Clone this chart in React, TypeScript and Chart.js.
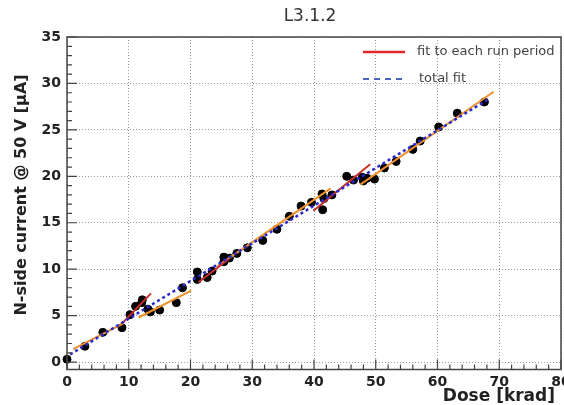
import React, { useEffect, useRef } from "react";
import { Chart, registerables } from "chart.js";

Chart.register(...registerables);

// ---- data ----
const chartTitle = "L3.1.2";
const xAxisTitle = "Dose [krad]";
const yAxisTitle = "N-side current @ 50 V [\u03bcA]";
const legendLabels = ["fit to each run period", "total fit"];

const xTickValues = [0, 10, 20, 30, 40, 50, 60, 70, 80];
const yTickValues = [0, 5, 10, 15, 20, 25, 30, 35];

const doseKrad = [
  0.0, 2.9, 5.8, 8.9, 10.2, 11.1, 12.2, 12.1, 13.1, 13.5, 15.0, 17.7, 18.7,
  21.1, 21.1, 22.7, 23.5, 25.4, 25.4, 26.3, 27.5, 29.2, 31.7, 34.0, 36.0,
  37.9, 39.6, 41.3, 41.6, 41.4, 42.9, 45.3, 46.4, 47.8, 48.0, 48.6, 49.8,
  51.4, 53.3, 56.0, 57.2, 60.2, 63.2, 67.6,
];
const currentUA = [
  0.3, 1.7, 3.2, 3.7, 5.1, 6.0, 6.7, 6.4, 5.7, 5.4, 5.6, 6.4, 8.0,
  9.7, 8.9, 9.1, 9.8, 10.8, 11.3, 11.2, 11.7, 12.3, 13.1, 14.3, 15.7,
  16.8, 17.2, 18.1, 17.6, 16.4, 18.0, 20.0, 19.6, 19.9, 19.5, 19.8, 19.7,
  20.9, 21.6, 22.9, 23.8, 25.3, 26.8, 28.0,
];

// per-run-period fits (start/end of each fitted segment); 0 = odd period, 1 = even period
const runFitStartDose = [1.0, 8.7, 11.6, 21.3, 24.3, 39.9, 47.5];
const runFitStartCurrent = [1.4, 4.0, 4.8, 8.6, 10.3, 16.3, 19.1];
const runFitEndDose = [9.2, 13.6, 20.1, 26.2, 42.7, 49.1, 69.1];
const runFitEndCurrent = [4.2, 7.4, 7.7, 11.1, 18.7, 21.3, 29.1];
const runFitPeriodParity = [0, 1, 0, 1, 0, 1, 0];

// total fit endpoints
const totalFitDose = [0.5, 68.5];
const totalFitCurrent = [0.82, 28.4];

// ---- styles ----
const FONT = "DejaVu Sans";
const periodColors = ["#f0902c", "#c8302c"];
const totalFitColor = "#2a2ad0";

const decorPlugin = {
  id: "decor",
  afterDraw(chart: any) {
    const { ctx, chartArea: a, scales } = chart;
    const x = scales.x;
    const y = scales.y;
    ctx.save();
    // frame
    ctx.setLineDash([]);
    ctx.strokeStyle = "#444";
    ctx.lineWidth = 1.5;
    ctx.strokeRect(a.left, a.top, a.right - a.left, a.bottom - a.top);
    // inward ticks x
    ctx.lineWidth = 1.2;
    ctx.beginPath();
    for (let v = x.min; v <= x.max + 1e-9; v += 2) {
      const px = x.getPixelForValue(v);
      const len = Math.abs(v % 10) < 1e-6 ? 10 : 5;
      ctx.moveTo(px, a.bottom);
      ctx.lineTo(px, a.bottom - len);
    }
    // inward ticks y
    for (let v = 0; v <= 35 + 1e-9; v += 1) {
      const py = y.getPixelForValue(v);
      const len = Math.abs(v % 5) < 1e-6 ? 10 : 5;
      ctx.moveTo(a.left, py);
      ctx.lineTo(a.left + len, py);
    }
    ctx.stroke();

    // title
    ctx.fillStyle = "#333";
    ctx.font = `17px "${FONT}"`;
    ctx.textAlign = "center";
    ctx.textBaseline = "middle";
    ctx.fillText(chartTitle, 310, 17);

    // legend
    ctx.font = `13px "${FONT}"`;
    ctx.textAlign = "left";
    ctx.fillStyle = "#444";
    ctx.lineWidth = 2.5;
    ctx.strokeStyle = "#e02828";
    ctx.beginPath();
    ctx.moveTo(363, 52);
    ctx.lineTo(405, 52);
    ctx.stroke();
    ctx.fillText(legendLabels[0], 417, 52);
    ctx.strokeStyle = "#4a66b8";
    ctx.lineWidth = 2;
    ctx.setLineDash([6, 5]);
    ctx.beginPath();
    ctx.moveTo(363, 79);
    ctx.lineTo(405, 79);
    ctx.stroke();
    ctx.setLineDash([]);
    ctx.fillText(legendLabels[1], 419, 79);

    // axis titles
    ctx.fillStyle = "#222";
    ctx.font = `bold 17px "${FONT}"`;
    ctx.textAlign = "right";
    ctx.fillText(xAxisTitle, 555, 397);
    ctx.save();
    ctx.translate(22, 195);
    ctx.rotate(-Math.PI / 2);
    ctx.textAlign = "center";
    ctx.font = `bold 16px "${FONT}"`;
    ctx.fillText(yAxisTitle, 0, 0);
    ctx.restore();
    ctx.restore();
  },
};

export default function App() {
  const ref = useRef<HTMLCanvasElement>(null);
  useEffect(() => {
    document.body.style.margin = "0";
    const points = doseKrad.map((d, i) => ({ x: d, y: currentUA[i] }));
    const runSets = runFitStartDose.map((d, i) => ({
      type: "line" as const,
      data: [
        { x: d, y: runFitStartCurrent[i] },
        { x: runFitEndDose[i], y: runFitEndCurrent[i] },
      ],
      borderColor: periodColors[runFitPeriodParity[i]],
      borderWidth: 2,
      pointRadius: 0,
      showLine: true,
      fill: false,
      order: 2,
    }));
    const chart = new Chart(ref.current!, {
      type: "scatter",
      data: {
        datasets: [
          {
            type: "scatter",
            data: points,
            backgroundColor: "#000",
            borderColor: "#000",
            pointRadius: 4,
            clip: false,
            order: 3,
          } as any,
          ...runSets,
          {
            type: "line",
            data: totalFitDose.map((d, i) => ({ x: d, y: totalFitCurrent[i] })),
            borderColor: totalFitColor,
            borderWidth: 2.5,
            borderDash: [3, 3],
            pointRadius: 0,
            showLine: true,
            fill: false,
            order: 1,
          },
        ],
      },
      options: {
        animation: false,
        responsive: true,
        maintainAspectRatio: false,
        layout: { padding: { top: 37, right: 19, left: 0, bottom: 0 } },
        plugins: {
          legend: { display: false },
          title: { display: false },
          tooltip: { enabled: false },
        },
        scales: {
          x: {
            type: "linear",
            min: 0,
            max: 80,
            afterBuildTicks: (s: any) => {
              s.ticks = xTickValues.map((v) => ({ value: v }));
            },
            afterFit: (s: any) => {
              s.height = 35.5;
            },
            grid: { color: "#9a9a9a", lineWidth: 1, drawTicks: false },
            border: { display: false, dash: [1, 2] },
            ticks: {
              padding: 4,
              color: "#222",
              font: { family: FONT, weight: "bold", size: 14 },
              maxRotation: 0,
            },
          },
          y: {
            type: "linear",
            min: -0.8,
            max: 35,
            afterBuildTicks: (s: any) => {
              s.ticks = yTickValues.map((v) => ({ value: v }));
            },
            afterFit: (s: any) => {
              s.width = 67;
            },
            grid: { color: "#9a9a9a", lineWidth: 1, drawTicks: false },
            border: { display: false, dash: [1, 2] },
            ticks: {
              padding: 6,
              color: "#222",
              font: { family: FONT, weight: "bold", size: 14 },
            },
          },
        },
      } as any,
      plugins: [decorPlugin],
    });
    return () => chart.destroy();
  }, []);
  return (
    <div style={{ width: 564, height: 405, overflow: "hidden", background: "#fff" }}>
      <div style={{ width: 580, height: 405, position: "relative" }}>
        <canvas ref={ref} />
      </div>
    </div>
  );
}
